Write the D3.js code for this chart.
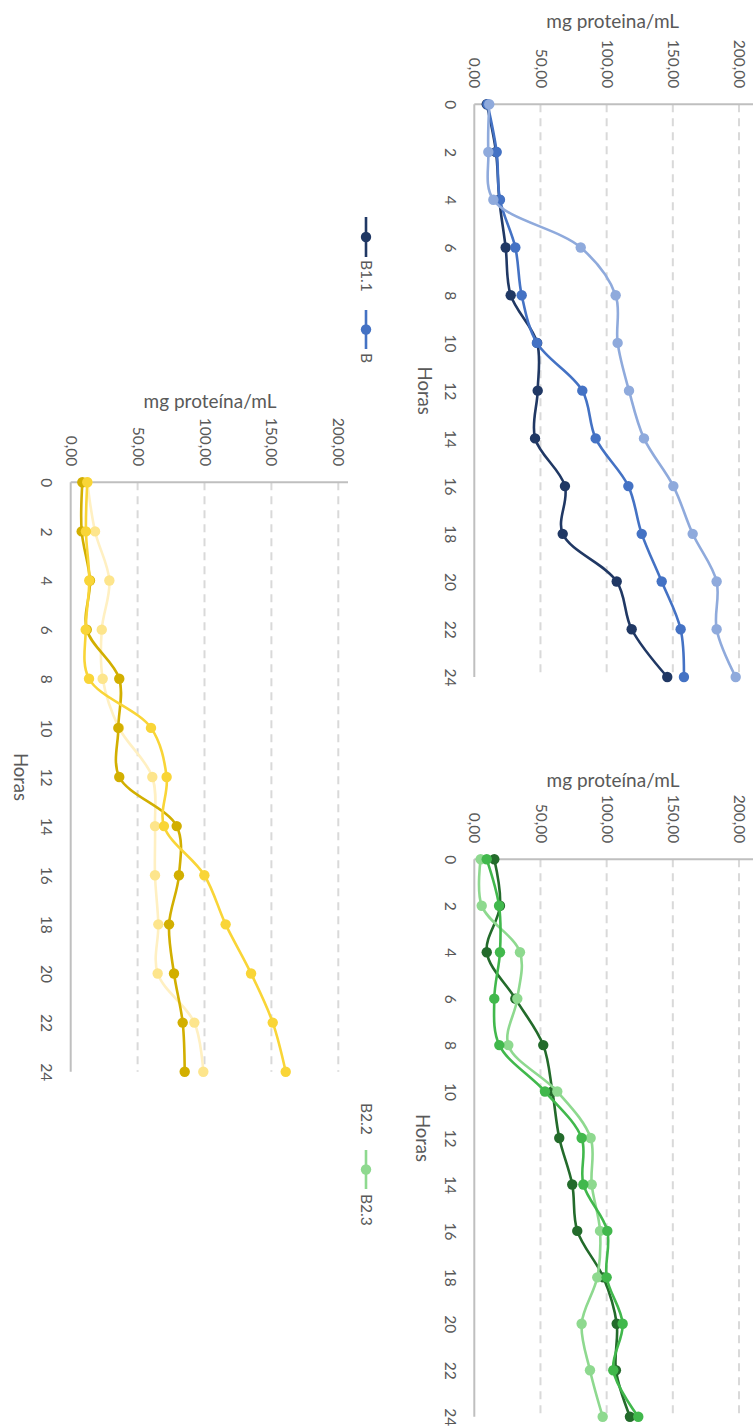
<!DOCTYPE html>
<html>
<head>
<meta charset="utf-8">
<script src="https://cdn.jsdelivr.net/npm/d3@7/dist/d3.min.js"></script>
<style>
  html, body { margin: 0; padding: 0; background: #ffffff; }
  svg { display: block; }
  text { font-family: Lato, "Open Sans", sans-serif; fill: #595959; }
</style>
</head>
<body>
<svg id="chart" width="753" height="1428"></svg>
<script>
// ---------- DATA ----------
const hours = [0, 2, 4, 6, 8, 10, 12, 14, 16, 18, 20, 22, 24];
const valueTicks = [0, 50, 100, 150, 200];

// Blue panel (B1.x)
const b11 = [9.4, 16.4, 18.9, 23.7, 27.5, 47.5, 47.9, 45.9, 68.5, 66.8, 107.6, 118.9, 145.8];
const b12 = [10.0, 16.9, 19.4, 31.0, 35.8, 47.3, 81.6, 91.7, 116.4, 126.5, 141.6, 155.9, 158.4];
const b13 = [11.3, 10.6, 14.4, 80.4, 106.8, 108.3, 116.9, 128.2, 150.4, 165.0, 183.1, 183.1, 197.5];

// Green panel (B2.x)
const b21 = [15.1, 19.4, 9.4, 31.0, 52.1, 59.0, 64.2, 74.0, 77.8, 97.5, 107.6, 107.0, 117.6];
const b22 = [9.4, 18.7, 19.4, 15.1, 18.9, 53.4, 81.1, 82.4, 100.5, 100.0, 112.1, 105.0, 123.9];
const b23 = [4.8, 5.6, 34.5, 32.5, 25.7, 62.7, 87.9, 88.7, 95.0, 92.9, 81.1, 87.4, 97.0];

// Yellow panel (B3.x)
const b31 = [8.7, 8.2, 14.4, 12.0, 36.3, 35.6, 36.3, 79.2, 80.9, 73.5, 77.2, 83.7, 85.2];
const b32 = [12.4, 11.4, 13.9, 11.2, 13.7, 60.0, 71.7, 69.7, 99.9, 115.8, 134.8, 151.0, 160.7];
const b33 = [12.4, 18.2, 28.9, 23.2, 23.9, 36.1, 61.0, 63.0, 63.0, 65.5, 65.0, 92.4, 99.1];

const legendBlue = ["B1.1", "B"];
const legendGreen = ["B2.2", "B2.3"];

// ---------- DRAWING ----------
const svg = d3.select("#chart");
const fmt = v => d3.format(".2f")(v).replace(".", ",");

function panel(cfg) {
  const g = svg.append("g");
  const x = d3.scaleLinear().domain([0, 200]).range([cfg.x0, cfg.x200]);
  const y = d3.scaleLinear().domain([0, 24]).range([cfg.y0, cfg.y24]);

  // dashed gridlines
  g.append("g").selectAll("line").data(valueTicks.filter(v => v > 0)).join("line")
    .attr("x1", d => x(d)).attr("x2", d => x(d))
    .attr("y1", cfg.y0).attr("y2", cfg.y24)
    .attr("stroke", "#d9d9d9").attr("stroke-width", 2).attr("stroke-dasharray", "8,6");

  // value axis labels (rotated)
  const vAxis = d3.axisTop(x).tickValues(valueTicks).tickFormat(fmt).tickSize(0);
  const va = g.append("g").attr("transform", `translate(0,${cfg.y0 - 16})`).call(vAxis);
  va.select(".domain").remove();
  va.selectAll("text")
    .attr("transform", "rotate(90)")
    .attr("x", 0).attr("y", 0).attr("dy", "0.35em")
    .attr("text-anchor", "end")
    .style("font-size", "15.5px").style("font-family", "Lato, sans-serif").attr("fill", "#595959");

  // hour axis labels (rotated)
  const hAxis = d3.axisLeft(y).tickValues(hours).tickFormat(d3.format("d")).tickSize(0);
  const ha = g.append("g").attr("transform", `translate(${cfg.hx},0)`).call(hAxis);
  ha.select(".domain").remove();
  ha.selectAll("text")
    .attr("transform", "rotate(90)")
    .attr("x", 0).attr("y", 0).attr("dy", "0.35em")
    .attr("text-anchor", "middle")
    .style("font-size", "15.5px").style("font-family", "Lato, sans-serif").attr("fill", "#595959");

  // axis lines
  g.append("line").attr("x1", cfg.x0).attr("x2", cfg.x0).attr("y1", cfg.y0).attr("y2", cfg.y24)
    .attr("stroke", "#bfbfbf").attr("stroke-width", 2);
  g.append("line").attr("x1", cfg.x0).attr("x2", cfg.xEnd).attr("y1", cfg.y0).attr("y2", cfg.y0)
    .attr("stroke", "#bfbfbf").attr("stroke-width", 2);

  // titles
  g.append("text").attr("x", cfg.titleX).attr("y", cfg.titleY).attr("dy", "0.35em")
    .attr("text-anchor", "middle").style("font-size", "19px").text(cfg.title);
  g.append("text").attr("transform", `translate(${cfg.horasX},${(cfg.y0 + cfg.y24) / 2}) rotate(90)`)
    .attr("dy", "0.35em").attr("text-anchor", "middle").style("font-size", "18.5px").text("Horas");

  // series
  const line = d3.line().x(d => x(d.v)).y(d => y(d.h)).curve(d3.curveCatmullRom.alpha(0.5));
  cfg.series.forEach(s => {
    const pts = hours.map((h, i) => ({ h, v: s.values[i] }));
    g.append("path").datum(pts).attr("d", line)
      .attr("fill", "none").attr("stroke", s.line).attr("stroke-width", 2.6)
      .attr("stroke-linejoin", "round").attr("stroke-linecap", "round");
    g.append("g").selectAll("circle").data(pts).join("circle")
      .attr("cx", d => x(d.v)).attr("cy", d => y(d.h)).attr("r", 5.2)
      .attr("fill", s.marker);
  });
  return g;
}

panel({
  x0: 474.3, x200: 739, xEnd: 753, y0: 104.3, y24: 677,
  hx: 450, horasX: 424, titleX: 612.7, titleY: 21.7, title: "mg proteina/mL",
  series: [
    { values: b11, line: "#203864", marker: "#203864" },
    { values: b12, line: "#4472C4", marker: "#4472C4" },
    { values: b13, line: "#8FAADC", marker: "#8FAADC" }
  ]
});

panel({
  x0: 474.3, x200: 739, xEnd: 753, y0: 859.3, y24: 1416.7,
  hx: 450, horasX: 422, titleX: 613, titleY: 780, title: "mg proteína/mL",
  series: [
    { values: b21, line: "#236B2B", marker: "#236B2B" },
    { values: b23, line: "#8ED98F", marker: "#8ED98F" },
    { values: b22, line: "#41B84C", marker: "#41B84C" }
  ]
});

panel({
  x0: 70.7, x200: 338.3, xEnd: 348, y0: 482.3, y24: 1071.7,
  hx: 46.7, horasX: 20, titleX: 210, titleY: 401.7, title: "mg proteína/mL",
  series: [
    { values: b33, line: "#FFF0C2", marker: "#FDE58C" },
    { values: b31, line: "#D2AF00", marker: "#D2AF00" },
    { values: b32, line: "#F9D537", marker: "#F9D537" }
  ]
});

// ---------- LEGENDS ----------
function legendItem(cx, lineTop, lineBottom, color, label, textY) {
  const g = svg.append("g");
  if (color) {
    g.append("line").attr("x1", cx).attr("x2", cx).attr("y1", lineTop).attr("y2", lineBottom)
      .attr("stroke", color).attr("stroke-width", 2.6);
    g.append("circle").attr("cx", cx).attr("cy", (lineTop + lineBottom) / 2).attr("r", 5.2).attr("fill", color);
  }
  g.append("text").attr("transform", `translate(${cx},${textY}) rotate(90)`)
    .attr("dy", "0.35em").attr("text-anchor", "start").style("font-size", "15.5px").text(label);
}
legendItem(366, 217, 257, "#203864", legendBlue[0], 260);
legendItem(366, 310, 349, "#4472C4", legendBlue[1], 353);
legendItem(366, 0, 0, null, legendGreen[0], 1103);
legendItem(366, 1150, 1189, "#8ED98F", legendGreen[1], 1194);
</script>
</body>
</html>
